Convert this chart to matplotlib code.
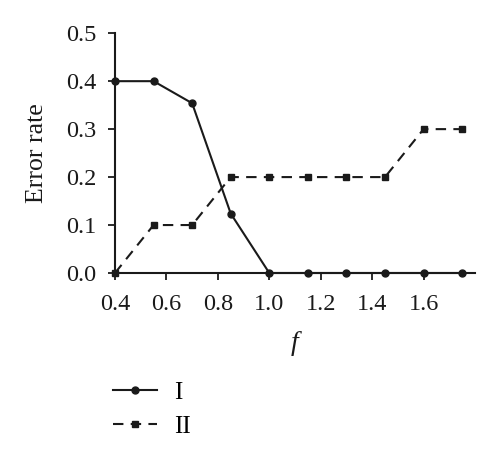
import matplotlib
matplotlib.use("Agg")
import matplotlib.pyplot as plt

f_vals = [0.4, 0.55, 0.7, 0.85, 1.0, 1.15, 1.3, 1.45, 1.6, 1.75]
series_I = [0.4, 0.4, 0.354, 0.124, 0.0, 0.0, 0.0, 0.0, 0.0, 0.0]
series_II = [0.0, 0.1, 0.1, 0.2, 0.2, 0.2, 0.2, 0.2, 0.3, 0.3]
x_ticks = [0.4, 0.6, 0.8, 1.0, 1.2, 1.4, 1.6]
y_ticks = [0.0, 0.1, 0.2, 0.3, 0.4, 0.5]

plt.rcParams['font.family'] = ['Liberation Serif', 'DejaVu Serif']
fig = plt.figure(figsize=(5.0, 4.55), dpi=100)
ax = fig.add_axes([0.23, 0.40, 0.72, 0.527])

col = '#1a1a1a'
ax.plot(f_vals, series_I, '-', color=col, lw=1.5, marker='o', ms=5, label='I', clip_on=False, zorder=3)
ax.plot(f_vals, series_II, color=col, lw=1.5, ls=(0, (5, 3.5)), marker='s', ms=4.6, label='II', clip_on=False, zorder=3)

ax.set_xlim(0.4, 1.80)
ax.set_ylim(0.0, 0.5)
ax.set_xticks(x_ticks)
ax.set_xticklabels([f"{v:.1f}" for v in x_ticks])
ax.set_yticks(y_ticks)
ax.set_yticklabels([f"{v:.1f}" for v in y_ticks])
for s in ['top', 'right']:
    ax.spines[s].set_visible(False)
for s in ['left', 'bottom']:
    ax.spines[s].set_linewidth(1.5)
    ax.spines[s].set_color(col)
ax.tick_params(direction='out', length=5, width=1.3, labelsize=17.5, colors=col)
ax.tick_params(axis='x', pad=10)
ax.tick_params(axis='y', pad=8.5)
ax.set_ylabel('Error rate', fontsize=18.5, color=col, labelpad=13)
ax.set_xlabel('f', fontsize=20, style='italic', color=col, labelpad=12)

leg = ax.legend(loc='upper left', bbox_to_anchor=(0.226, 0.162), bbox_transform=fig.transFigure,
                frameon=False, fontsize=18, handlelength=1.75, handletextpad=0.7,
                labelspacing=0.45, borderpad=0, borderaxespad=0)

fig.savefig('out.png', dpi=100)
